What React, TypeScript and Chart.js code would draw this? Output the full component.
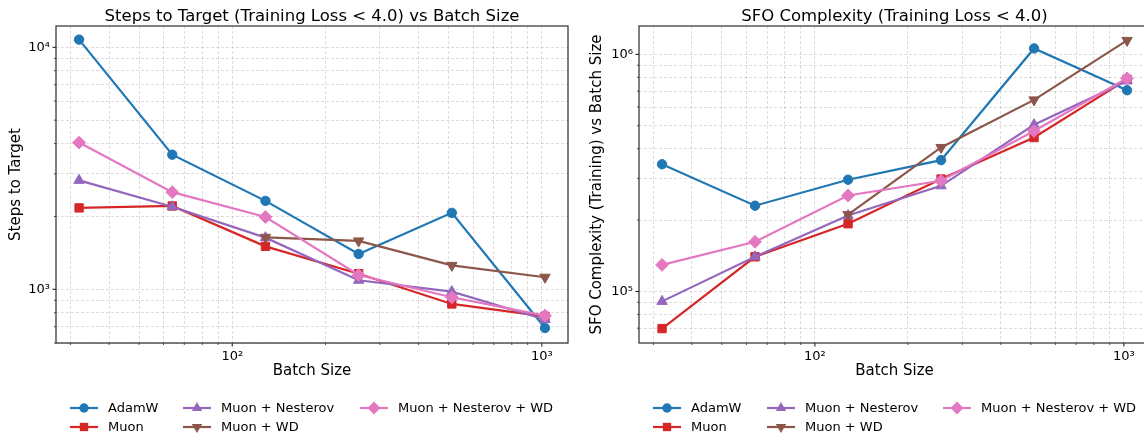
import React, { useEffect, useRef } from "react";
import { Chart, registerables } from "chart.js";

Chart.register(...registerables);

// ---- data -----------------------------------------------------------------
const batchSizes = [32, 64, 128, 256, 512, 1024];
const seriesNames = ["AdamW", "Muon", "Muon + Nesterov", "Muon + WD", "Muon + Nesterov + WD"];

// steps needed to reach training loss < 4.0
const stepsAdamW = [10760, 3600, 2320, 1400, 2070, 692];
const stepsMuon = [2170, 2210, 1505, 1160, 870, 773];
const stepsMuonNesterov = [2820, 2195, 1635, 1090, 978, 750];
const stepsMuonWD = [null, null, 1640, 1585, 1256, 1122];
const stepsMuonNesterovWD = [4040, 2520, 1990, 1146, 927, 778];

// stochastic first-order oracle calls needed to reach training loss < 4.0
const sfoAdamW = [344000, 230000, 296000, 358000, 1060000, 706000];
const sfoMuon = [69700, 140000, 193000, 298000, 446000, 785000];
const sfoMuonNesterov = [90800, 140000, 209000, 279000, 505000, 773000];
const sfoMuonWD = [null, null, 211000, 405000, 643000, 1146000];
const sfoMuonNesterovWD = [129400, 162000, 254000, 293000, 475000, 793000];

// tick positions (log axes: decades labelled, in-between values as minor ticks)
const xTickValues = [30, 40, 50, 60, 70, 80, 90, 100, 200, 300, 400, 500, 600, 700, 800, 900, 1000];
const stepsTickValues = [600, 700, 800, 900, 1000, 2000, 3000, 4000, 5000, 6000, 7000, 8000, 9000, 10000];
const sfoTickValues = [70000, 80000, 90000, 100000, 200000, 300000, 400000, 500000, 600000, 700000, 800000, 900000, 1000000];

// ---- styles ---------------------------------------------------------------
const FONT = "'DejaVu Sans', Verdana, sans-serif";
const seriesColors = ["#1f77b4", "#d62728", "#9467bd", "#8c564b", "#e377c2"];
const seriesMarkers = ["circle", "rect", "triangle", "triangleDown", "rectRot"];
const markerRadius = [4.7, 5.9, 6.0, 6.0, 6.4];

const SUP: Record<string, string> = { "0": "⁰", "1": "¹", "2": "²", "3": "³", "4": "⁴", "5": "⁵", "6": "⁶", "7": "⁷", "8": "⁸", "9": "⁹" };

function isDecade(v: number) {
  const l = Math.log10(v);
  return Math.abs(l - Math.round(l)) < 1e-9;
}

function decadeLabel(v: number) {
  if (!isDecade(v)) return "";
  const e = String(Math.round(Math.log10(v)));
  return "10" + e.split("").map((c) => SUP[c]).join("");
}

type PanelSpec = {
  title: string;
  yTitle: string;
  series: (number | null)[][];
  yTicks: number[];
  yMin: number;
  yMax: number;
  xMin: number;
  xMax: number;
  yAxisWidth: number;
  padRight: number;
  yTitlePad: number;
};

function frameAndTitle(title: string) {
  return {
    id: "frameAndTitle",
    afterDatasetsDraw(chart: any) {
      const { ctx, chartArea } = chart;
      const { left, right, top, bottom } = chartArea;
      ctx.save();
      // tick marks outside the frame
      ctx.strokeStyle = "#222";
      const xs = chart.scales.x;
      const ys = chart.scales.y;
      for (const t of xs.ticks) {
        const px = xs.getPixelForValue(t.value);
        if (px < left - 0.5 || px > right + 0.5) continue;
        const major = isDecade(t.value);
        ctx.lineWidth = major ? 1.1 : 0.8;
        ctx.beginPath();
        ctx.moveTo(px, bottom);
        ctx.lineTo(px, bottom + (major ? 3.5 : 2));
        ctx.stroke();
      }
      for (const t of ys.ticks) {
        const py = ys.getPixelForValue(t.value);
        if (py < top - 0.5 || py > bottom + 0.5) continue;
        const major = isDecade(t.value);
        ctx.lineWidth = major ? 1.1 : 0.8;
        ctx.beginPath();
        ctx.moveTo(left, py);
        ctx.lineTo(left - (major ? 3.5 : 2), py);
        ctx.stroke();
      }
      // axes frame
      ctx.strokeStyle = "#333";
      ctx.lineWidth = 1.25;
      ctx.strokeRect(left, top, right - left, bottom - top);
      // title centred over the plotting area
      ctx.fillStyle = "#000";
      ctx.font = `16.5px ${FONT}`;
      ctx.textAlign = "center";
      ctx.textBaseline = "alphabetic";
      ctx.fillText(title, (left + right) / 2, 20.5);
      ctx.restore();
    },
  };
}

function makeChart(canvas: HTMLCanvasElement, spec: PanelSpec) {
  const datasets = spec.series.map((vals, i) => ({
    label: seriesNames[i],
    data: batchSizes
      .map((b, j) => ({ x: b, y: vals[j] }))
      .filter((p) => p.y !== null) as { x: number; y: number }[],
    borderColor: seriesColors[i],
    backgroundColor: seriesColors[i],
    pointBackgroundColor: seriesColors[i],
    pointBorderColor: seriesColors[i],
    borderWidth: 2.2,
    pointBorderWidth: 1,
    pointRadius: markerRadius[i],
    pointStyle: seriesMarkers[i] === "triangleDown" ? "triangle" : seriesMarkers[i],
    pointRotation: seriesMarkers[i] === "triangleDown" ? 180 : 0,
    tension: 0,
    fill: false,
    order: seriesNames.length - i,
  }));

  const tickFont = { family: FONT, size: 13 };
  const titleFont = { family: FONT, size: 15, lineHeight: 1.2 };

  return new Chart(canvas, {
    type: "line",
    data: { datasets },
    options: {
      animation: false,
      responsive: false,
      maintainAspectRatio: false,
      layout: { padding: { top: 26, right: spec.padRight, left: 0, bottom: 0 } },
      plugins: {
        legend: { display: false },
        tooltip: { enabled: false },
        title: { display: false },
      },
      scales: {
        x: {
          type: "logarithmic",
          min: spec.xMin,
          max: spec.xMax,
          afterBuildTicks: (s: any) => {
            s.ticks = xTickValues
              .filter((v) => v >= spec.xMin && v <= spec.xMax)
              .map((v) => ({ value: v, major: isDecade(v) }));
          },
          afterFit: (s: any) => {
            s.height = 92;
          },
          ticks: {
            autoSkip: false,
            maxRotation: 0,
            minRotation: 0,
            padding: 6,
            color: "#000",
            font: tickFont,
            callback: (v: any) => decadeLabel(Number(v)),
          },
          grid: { color: "rgba(0,0,0,0.17)", lineWidth: 0.8, drawTicks: false },
          border: { display: false, dash: [3, 2] },
          title: {
            display: true,
            text: "Batch Size",
            color: "#000",
            font: titleFont,
            padding: { top: 0, bottom: 55 },
          },
        },
        y: {
          type: "logarithmic",
          min: spec.yMin,
          max: spec.yMax,
          afterBuildTicks: (s: any) => {
            s.ticks = spec.yTicks
              .filter((v) => v >= spec.yMin && v <= spec.yMax)
              .map((v) => ({ value: v, major: isDecade(v) }));
          },
          afterFit: (s: any) => {
            s.width = spec.yAxisWidth;
          },
          ticks: {
            autoSkip: false,
            padding: 6,
            color: "#000",
            font: tickFont,
            callback: (v: any) => decadeLabel(Number(v)),
          },
          grid: { color: "rgba(0,0,0,0.17)", lineWidth: 0.8, drawTicks: false },
          border: { display: false, dash: [3, 2] },
          title: {
            display: true,
            text: spec.yTitle,
            color: "#000",
            font: titleFont,
            padding: { top: spec.yTitlePad, bottom: 0 },
          },
        },
      },
    } as any,
    plugins: [frameAndTitle(spec.title)],
  });
}

const stepsPanel: PanelSpec = {
  title: "Steps to Target (Training Loss < 4.0) vs Batch Size",
  yTitle: "Steps to Target",
  series: [stepsAdamW, stepsMuon, stepsMuonNesterov, stepsMuonWD, stepsMuonNesterovWD],
  yTicks: stepsTickValues,
  yMin: 600,
  yMax: 12250,
  xMin: 26.95,
  xMax: 1215,
  yAxisWidth: 56,
  padRight: 12,
  yTitlePad: 7,
};

const sfoPanel: PanelSpec = {
  title: "SFO Complexity (Training Loss < 4.0)",
  yTitle: "SFO Complexity (Training) vs Batch Size",
  series: [sfoAdamW, sfoMuon, sfoMuonNesterov, sfoMuonWD, sfoMuonNesterovWD],
  yTicks: sfoTickValues,
  yMin: 60600,
  yMax: 1318000,
  xMin: 26.95,
  xMax: 1215,
  yAxisWidth: 59,
  padRight: 10,
  yTitlePad: 8,
};

function Panel({ spec, left }: { spec: PanelSpec; left: number }) {
  const ref = useRef<HTMLCanvasElement | null>(null);
  useEffect(() => {
    if (!ref.current) return;
    const chart = makeChart(ref.current, spec);
    return () => chart.destroy();
  }, [spec]);
  return (
    <canvas
      ref={ref}
      width={580}
      height={435}
      style={{ position: "absolute", left, top: 0, width: 580, height: 435 }}
    />
  );
}

function LegendMarker({ kind, color, r }: { kind: string; color: string; r: number }) {
  const cx = 14;
  const cy = 7;
  let shape: React.ReactNode = null;
  if (kind === "circle") shape = <circle cx={cx} cy={cy} r={r} fill={color} />;
  else if (kind === "rect") {
    const h = r * Math.SQRT1_2;
    shape = <rect x={cx - h} y={cy - h} width={2 * h} height={2 * h} fill={color} />;
  } else if (kind === "triangle" || kind === "triangleDown") {
    const s = kind === "triangle" ? 1 : -1;
    const pts = [0, 1, 2]
      .map((k) => {
        const a = (k * 2 * Math.PI) / 3;
        return `${cx + Math.sin(a) * r},${cy - s * Math.cos(a) * r}`;
      })
      .join(" ");
    shape = <polygon points={pts} fill={color} />;
  } else if (kind === "rectRot") {
    shape = (
      <polygon
        points={`${cx - r},${cy} ${cx},${cy - r} ${cx + r},${cy} ${cx},${cy + r}`}
        fill={color}
      />
    );
  }
  return (
    <svg width={28} height={14} style={{ display: "block" }}>
      <line x1={0} y1={cy} x2={28} y2={cy} stroke={color} strokeWidth={2.2} />
      {shape}
    </svg>
  );
}

// legend laid out in columns: [AdamW, Muon], [Muon + Nesterov, Muon + WD], [Muon + Nesterov + WD]
const legendColumns = [[0, 1], [2, 3], [4]];

function Legend({ columnsX }: { columnsX: number[] }) {
  const rowsY = [408, 427];
  const items: React.ReactNode[] = [];
  legendColumns.forEach((col, ci) => {
    col.forEach((si, ri) => {
      items.push(
        <div
          key={si}
          style={{
            position: "absolute",
            left: columnsX[ci],
            top: rowsY[ri] - 9,
            height: 18,
            display: "flex",
            alignItems: "center",
            whiteSpace: "nowrap",
          }}
        >
          <LegendMarker kind={seriesMarkers[si]} color={seriesColors[si]} r={markerRadius[si]} />
          <span style={{ marginLeft: 10, fontSize: 13, fontFamily: FONT, color: "#000", lineHeight: "18px" }}>
            {seriesNames[si]}
          </span>
        </div>
      );
    });
  });
  return <>{items}</>;
}

export default function App() {
  return (
    <div
      style={{
        position: "fixed",
        left: 0,
        top: 0,
        width: 1144,
        height: 435,
        overflow: "hidden",
        background: "#fff",
      }}
    >
      <Panel spec={stepsPanel} left={0} />
      <Panel spec={sfoPanel} left={580} />
      <Legend columnsX={[70, 183, 360]} />
      <Legend columnsX={[653, 767, 943]} />
    </div>
  );
}
